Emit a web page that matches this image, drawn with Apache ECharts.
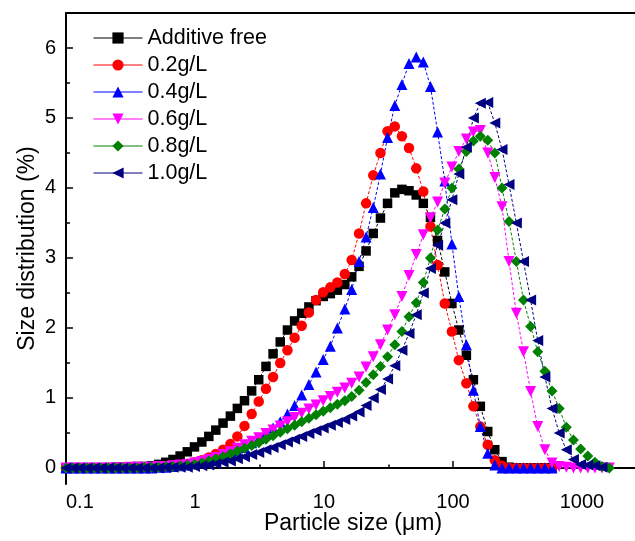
<!DOCTYPE html>
<html>
<head>
<meta charset="utf-8">
<script src="https://cdn.jsdelivr.net/npm/echarts@6/dist/echarts.min.js"></script>
<style>
html,body{margin:0;padding:0;background:#fff;}
#chart{width:635px;height:541px;}
</style>
</head>
<body>
<div id="chart"></div>
<script>
// Particle size bins (µm)
const sizes = [0.1, 0.113, 0.128, 0.146, 0.166, 0.188, 0.214, 0.243, 0.276, 0.314, 0.357, 0.405, 0.46, 0.523, 0.594, 0.675, 0.767, 0.872, 0.991, 1.13, 1.28, 1.45, 1.65, 1.88, 2.13, 2.42, 2.75, 3.12, 3.55, 4.03, 4.58, 5.21, 5.92, 6.72, 7.64, 8.68, 9.86, 11.2, 12.7, 14.5, 16.4, 18.7, 21.2, 24.1, 27.4, 31.1, 35.4, 40.2, 45.6, 51.9, 58.9, 66.9, 76.0, 86.4, 98.1, 111, 127, 144, 163, 186, 211, 240, 272, 310, 352, 400, 454, 516, 586, 666, 756, 859, 976, 1110, 1260, 1430, 1630];

const seriesNames = ['Additive free', '0.2g/L', '0.4g/L', '0.6g/L', '0.8g/L', '1.0g/L'];

const additiveFree = [0, 0, 0, 0, 0, 0, 0, 0.01, 0.01, 0.01, 0.02, 0.02, 0.03, 0.05, 0.08, 0.12, 0.17, 0.23, 0.3, 0.37, 0.45, 0.54, 0.64, 0.74, 0.85, 0.96, 1.1, 1.26, 1.45, 1.63, 1.8, 1.97, 2.1, 2.21, 2.3, 2.39, 2.45, 2.49, 2.54, 2.62, 2.73, 2.88, 3.1, 3.35, 3.57, 3.78, 3.93, 3.98, 3.96, 3.9, 3.78, 3.58, 3.25, 2.8, 2.35, 1.97, 1.61, 1.26, 0.88, 0.52, 0.26, 0.09, 0.01, 0, 0, 0, 0, 0, 0];

const conc02 = [0, 0, 0, 0, 0, 0, 0, 0, 0, 0, 0.01, 0.01, 0.01, 0.02, 0.02, 0.03, 0.04, 0.06, 0.08, 0.11, 0.15, 0.2, 0.26, 0.34, 0.45, 0.6, 0.77, 0.95, 1.13, 1.3, 1.5, 1.68, 1.86, 2.03, 2.22, 2.4, 2.51, 2.58, 2.65, 2.77, 2.97, 3.35, 3.78, 4.18, 4.5, 4.81, 4.88, 4.74, 4.57, 4.28, 3.95, 3.45, 2.9, 2.35, 1.95, 1.54, 1.21, 0.88, 0.59, 0.33, 0.11, 0.03, 0, 0, 0, 0, 0, 0, 0];

const conc04 = [0, 0, 0, 0, 0, 0, 0, 0, 0, 0, 0, 0, 0, 0.01, 0.01, 0.02, 0.03, 0.04, 0.06, 0.08, 0.1, 0.13, 0.16, 0.2, 0.24, 0.29, 0.36, 0.42, 0.49, 0.57, 0.66, 0.77, 0.89, 1.04, 1.19, 1.37, 1.55, 1.74, 2.0, 2.27, 2.55, 2.95, 3.3, 3.72, 4.2, 4.72, 5.18, 5.48, 5.78, 5.87, 5.8, 5.45, 4.8, 4.1, 3.2, 2.45, 1.76, 1.11, 0.59, 0.21, 0.04, 0, 0, 0, 0, 0, 0, 0, 0];

const conc06 = [0, 0, 0, 0, 0, 0, 0, 0, 0, 0.01, 0.01, 0.01, 0.01, 0.02, 0.02, 0.03, 0.04, 0.05, 0.07, 0.09, 0.12, 0.15, 0.19, 0.23, 0.28, 0.33, 0.38, 0.43, 0.49, 0.54, 0.6, 0.66, 0.72, 0.78, 0.84, 0.9, 0.96, 1.02, 1.08, 1.14, 1.21, 1.3, 1.44, 1.59, 1.76, 1.97, 2.19, 2.45, 2.75, 3.05, 3.33, 3.57, 3.8, 4.07, 4.3, 4.52, 4.7, 4.8, 4.82, 4.5, 4.15, 3.73, 2.95, 2.21, 1.66, 1.09, 0.59, 0.26, 0.07, 0.02, 0.01, 0, 0, 0, 0, 0, 0];

const conc08 = [0, 0, 0, 0, 0, 0, 0, 0, 0, 0, 0, 0.01, 0.01, 0.01, 0.02, 0.02, 0.03, 0.04, 0.05, 0.07, 0.1, 0.13, 0.16, 0.2, 0.24, 0.28, 0.32, 0.36, 0.41, 0.46, 0.51, 0.56, 0.61, 0.66, 0.71, 0.76, 0.81, 0.86, 0.91, 0.96, 1.02, 1.11, 1.22, 1.33, 1.45, 1.59, 1.76, 1.95, 2.16, 2.36, 2.65, 3.0, 3.4, 3.7, 4.0, 4.27, 4.52, 4.67, 4.74, 4.68, 4.5, 4.0, 3.52, 2.95, 2.4, 2.02, 1.66, 1.38, 1.1, 0.85, 0.58, 0.4, 0.27, 0.17, 0.08, 0.02, 0];

const conc10 = [0, 0, 0, 0, 0, 0, 0, 0, 0, 0, 0, 0, 0, 0, 0.01, 0.01, 0.01, 0.01, 0.02, 0.03, 0.04, 0.06, 0.08, 0.1, 0.13, 0.16, 0.19, 0.22, 0.26, 0.29, 0.33, 0.37, 0.41, 0.45, 0.49, 0.53, 0.57, 0.61, 0.65, 0.69, 0.74, 0.8, 0.89, 1.0, 1.12, 1.27, 1.46, 1.68, 1.92, 2.19, 2.5, 2.85, 3.18, 3.5, 3.83, 4.2, 4.58, 5.0, 5.21, 5.22, 4.93, 4.55, 4.05, 3.5, 2.95, 2.4, 1.82, 1.3, 0.85, 0.5, 0.26, 0.12, 0.05, 0.04, 0.03, 0.01];

const xTickLabels = [0.1, 1, 10, 100, 1000];
const xMinorTicks = [0.316, 3.16, 31.6, 316];
const yTickLabels = [0, 1, 2, 3, 4, 5, 6];
const yMinorTicks = [0.5, 1.5, 2.5, 3.5, 4.5, 5.5];

const FONT = '"Liberation Sans", Arial, sans-serif';
const colors = ['#000000', '#ff0000', '#0000ff', '#ff00ff', '#008000', '#000080'];
const symbols = [
  'rect',
  'circle',
  'path://M5,0 L10,10 L0,10 Z',
  'path://M0,0 L10,0 L5,10 Z',
  'path://M5,0 L10,5 L5,10 L0,5 Z',
  'path://M0,5 L10,0 L10,10 Z'
];
const symbolSizes = [9.5, 10.5, 11, 11, 11, 11];
const allValues = [additiveFree, conc02, conc04, conc06, conc08, conc10];

const chart = echarts.init(document.getElementById('chart'), null, {renderer: 'canvas'});

const series = allValues.map((vals, k) => ({
  name: seriesNames[k],
  type: 'line',
  xAxisIndex: 0,
  yAxisIndex: 0,
  data: vals.map((v, i) => [sizes[i], v]),
  symbol: symbols[k],
  symbolSize: symbolSizes[k],
  showAllSymbol: true,
  itemStyle: {color: colors[k]},
  lineStyle: {color: colors[k], width: 1, type: [3, 2]},
  emphasis: {disabled: true},
  animation: false
}));

const X_MIN = 0.1, X_MAX = 2818, Y_MIN = -0.23, Y_MAX = 6.5;

chart.setOption({
  animation: false,
  textStyle: {fontFamily: FONT},
  grid: {left: 66, top: 13, right: -5, bottom: 57, containLabel: false, outerBoundsMode: 'none'},
  legend: {
    orient: 'vertical',
    left: 88,
    top: 22,
    itemWidth: 49,
    itemHeight: 14,
    itemGap: 5,
    selectedMode: false,
    data: seriesNames,
    lineStyle: {type: 'solid', width: 1},
    textStyle: {fontSize: 21.5, color: '#000', lineHeight: 22, fontFamily: FONT}
  },
  xAxis: [
    {
      type: 'log', logBase: 10, min: X_MIN, max: X_MAX, position: 'bottom',
      axisLine: {show: true, lineStyle: {color: '#000', width: 2}},
      axisTick: {show: true, inside: true, length: 7, lineStyle: {color: '#000', width: 1.5}, customValues: xTickLabels},
      axisLabel: {customValues: xTickLabels, fontSize: 20, color: '#000', margin: 8, fontFamily: FONT, alignMinLabel: 'left',
        formatter: v => String(v)},
      splitLine: {show: false}, minorTick: {show: false},
      name: 'Particle size (μm)', nameLocation: 'middle', nameGap: 28, nameMoveOverlap: false,
      nameTextStyle: {fontSize: 23, color: '#000', fontFamily: FONT}
    },
    {
      type: 'log', logBase: 10, min: X_MIN, max: X_MAX, position: 'bottom',
      axisLine: {show: false},
      axisTick: {show: true, inside: true, length: 3.5, lineStyle: {color: '#000', width: 1.5}, customValues: xMinorTicks},
      axisLabel: {show: false}, splitLine: {show: false}
    },
    {
      type: 'log', logBase: 10, min: X_MIN, max: X_MAX, position: 'top',
      axisLine: {show: true, lineStyle: {color: '#000', width: 2}},
      axisTick: {show: false}, axisLabel: {show: false}, splitLine: {show: false}
    }
  ],
  yAxis: [
    {
      type: 'value', min: Y_MIN, max: Y_MAX, position: 'left',
      axisLine: {show: true, lineStyle: {color: '#000', width: 2}},
      axisTick: {show: true, inside: true, length: 7, lineStyle: {color: '#000', width: 1.5}, customValues: yTickLabels},
      axisLabel: {customValues: yTickLabels, fontSize: 20, color: '#000', margin: 10, fontFamily: FONT},
      splitLine: {show: false},
      name: 'Size distribution (%)', nameLocation: 'middle', nameGap: 27, nameMoveOverlap: false,
      nameTextStyle: {fontSize: 23, color: '#000', fontFamily: FONT}
    },
    {
      type: 'value', min: Y_MIN, max: Y_MAX, position: 'left', offset: 0,
      axisLine: {show: false},
      axisTick: {show: true, inside: true, length: 4, lineStyle: {color: '#000', width: 1.5}, customValues: yMinorTicks},
      axisLabel: {show: false}, splitLine: {show: false}
    }
  ],
  series: series
});
</script>
</body>
</html>
